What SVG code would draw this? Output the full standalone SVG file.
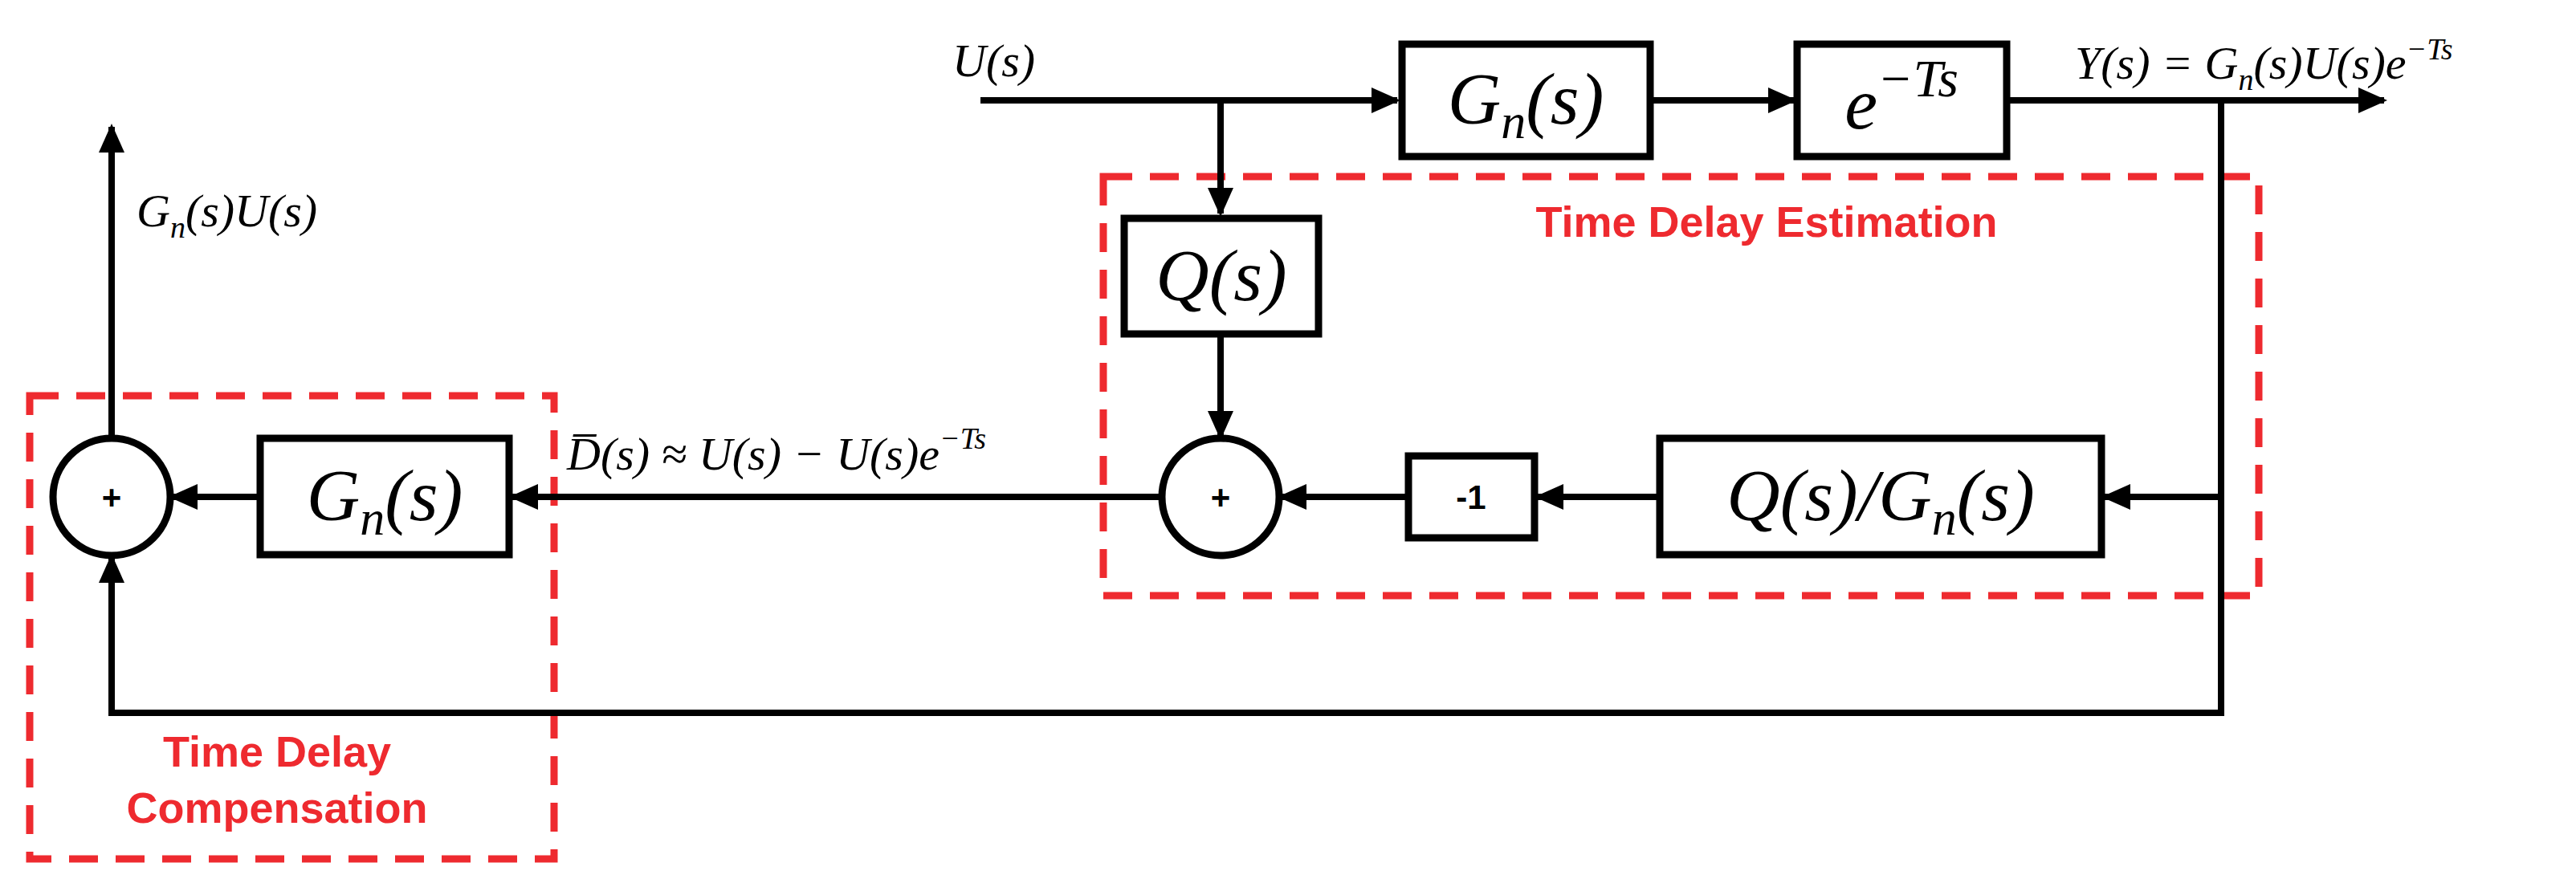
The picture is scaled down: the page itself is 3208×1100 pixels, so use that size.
<svg xmlns="http://www.w3.org/2000/svg" width="3208" height="1100" viewBox="0 0 3208 1100">
<style>
.blk{fill:#fff;stroke:#000;stroke-width:9}
.ln{fill:none;stroke:#000;stroke-width:8}
.red{fill:none;stroke:#ee2a2f;stroke-width:9;stroke-dasharray:36,22}
.m{font-family:"Liberation Serif",serif;font-style:italic;fill:#000}
.big{font-size:92px}
.lab{font-size:58px}
.t{font-family:"Liberation Sans",sans-serif;font-weight:bold;fill:#ee2a2f;font-size:54px;text-anchor:middle}
.p{font-family:"Liberation Sans",sans-serif;font-weight:bold;font-size:42px;text-anchor:middle}
</style>
<defs><marker id="a" markerWidth="4.5" markerHeight="4" refX="4" refY="2" orient="auto" markerUnits="strokeWidth"><path d="M0,0L4.5,2L0,4z" fill="#000"/></marker></defs>
<rect class="red" x="1374" y="220" width="1439" height="522"/>
<rect class="red" x="37" y="493" width="653" height="577"/>
<text class="t" x="2200" y="295">Time Delay Estimation</text>
<text class="t" x="345" y="955">Time Delay</text>
<text class="t" x="345" y="1025">Compensation</text>
<g id="connectors">
<path class="ln" d="M1221,125H1740" marker-end="url(#a)"/>
<path class="ln" d="M1520,125V266" marker-end="url(#a)"/>
<path class="ln" d="M1520,418V544" marker-end="url(#a)"/>
<path class="ln" d="M2055,125H2234" marker-end="url(#a)"/>
<path class="ln" d="M2499,125H2969" marker-end="url(#a)"/>
<path class="ln" d="M2766,125V888H139V694" marker-end="url(#a)"/>
<path class="ln" d="M2766,619H2621" marker-end="url(#a)"/>
<path class="ln" d="M2067,619H1915" marker-end="url(#a)"/>
<path class="ln" d="M1754,619H1595" marker-end="url(#a)"/>
<path class="ln" d="M1446,619H638" marker-end="url(#a)"/>
<path class="ln" d="M324,619H214" marker-end="url(#a)"/>
<path class="ln" d="M139,546V158" marker-end="url(#a)"/>
</g>
<g id="n_U"><text class="m lab" x="1186" y="95">U(s)</text></g>
<g id="n_Y"><text class="m lab" x="2584" y="98">Y(s) = G<tspan font-size="38" dy="14">n</tspan><tspan dy="-14">(s)U(s)e</tspan><tspan font-size="38" dy="-24">−Ts</tspan></text></g>
<g id="n_GU"><text class="m lab" x="170" y="282">G<tspan font-size="38" dy="14">n</tspan><tspan dy="-14">(s)U(s)</tspan></text></g>
<g id="n_D"><text class="m lab" x="706" y="585">D̅(s) ≈ U(s) − U(s)e<tspan font-size="38" dy="-26">−Ts</tspan></text></g>
<g id="n_Gtop"><rect class="blk" x="1746" y="55" width="309" height="140"/><text class="m big" x="1900" y="154" text-anchor="middle">G<tspan font-size="62" dy="18">n</tspan><tspan dy="-18">(s)</tspan></text></g>
<g id="n_delay"><rect class="blk" x="2238" y="55" width="261" height="140"/><text class="m big" x="2368" y="160" text-anchor="middle">e<tspan font-size="66" dy="-40">−Ts</tspan></text></g>
<g id="n_Q"><rect class="blk" x="1400" y="272" width="242" height="144"/><text class="m big" x="1521" y="374" text-anchor="middle">Q(s)</text></g>
<g id="n_QG"><rect class="blk" x="2067" y="546" width="550" height="145"/><text class="m big" x="2342" y="648" text-anchor="middle">Q(s)/G<tspan font-size="62" dy="18">n</tspan><tspan dy="-18">(s)</tspan></text></g>
<g id="n_m1"><rect class="blk" x="1754" y="568" width="157" height="102"/><text class="p" x="1832" y="634">-1</text></g>
<g id="n_Gleft"><rect class="blk" x="324" y="546" width="310" height="145"/><text class="m big" x="479" y="648" text-anchor="middle">G<tspan font-size="62" dy="18">n</tspan><tspan dy="-18">(s)</tspan></text></g>
<g id="n_sum2"><circle class="blk" cx="1520" cy="619" r="73"/><text class="p" x="1520" y="634">+</text></g>
<g id="n_sum1"><circle class="blk" cx="139" cy="619" r="73"/><text class="p" x="139" y="634">+</text></g>
</svg>
